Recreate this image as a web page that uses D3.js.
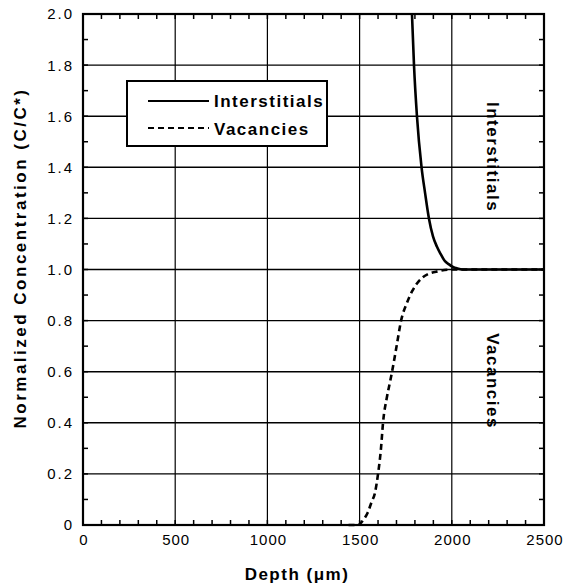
<!DOCTYPE html>
<html><head><meta charset="utf-8">
<script src="https://cdn.jsdelivr.net/npm/d3@7/dist/d3.min.js"></script>
<style>body{margin:0;background:#fff}svg{display:block}text{font-family:"Liberation Sans",Arial,Helvetica,sans-serif}</style>
</head><body>
<script>
const xTicks = [0, 500, 1000, 1500, 2000, 2500];
const yTicks = [0, 0.2, 0.4, 0.6, 0.8, 1.0, 1.2, 1.4, 1.6, 1.8, 2.0];
const yTickLabels = ["0", "0.2", "0.4", "0.6", "0.8", "1.0", "1.2", "1.4", "1.6", "1.8", "2.0"];
const interstitialDepth = [1784, 1795, 1811, 1836, 1855, 1876, 1898, 1919, 1940, 1960, 1985, 2006, 2030, 2060, 2200, 2500];
const interstitialConc  = [2.0, 1.8, 1.6, 1.4, 1.3, 1.2, 1.13, 1.09, 1.06, 1.035, 1.02, 1.01, 1.004, 1.0, 1.0, 1.0];
const vacancyDepth = [1440, 1490, 1520, 1545, 1565, 1583, 1600, 1616, 1627, 1648, 1665, 1676, 1703, 1725, 1757, 1785, 1811, 1840, 1871, 1925, 2000, 2500];
const vacancyConc  = [0.0, 0.0, 0.02, 0.05, 0.09, 0.125, 0.2, 0.3, 0.4, 0.5, 0.56, 0.6, 0.71, 0.8, 0.87, 0.915, 0.945, 0.968, 0.982, 0.993, 1.0, 1.0];
const seriesNames = ["Interstitials", "Vacancies"];

const W = 565, H = 587;
const L = 83, R = 544, T = 14, B = 525;
const svg = d3.select("body").append("svg").attr("width", W).attr("height", H);
const x = d3.scaleLinear().domain([0, 2500]).range([L, R]);
const y = d3.scaleLinear().domain([0, 2]).range([B, T]);

// grid
const g = svg.append("g");
g.selectAll(".vg").data(xTicks.slice(1, -1)).enter().append("line")
  .attr("x1", d => x(d)).attr("x2", d => x(d)).attr("y1", T).attr("y2", B)
  .attr("stroke", "#000").attr("stroke-width", 1.2);
g.selectAll(".hg").data(yTicks.slice(1, -1)).enter().append("line")
  .attr("y1", d => y(d)).attr("y2", d => y(d)).attr("x1", L).attr("x2", R)
  .attr("stroke", "#000").attr("stroke-width", 1.4);

// minor ticks
const xMinor = d3.range(100, 2500, 100);
const yMinor = d3.range(1, 20).map(i => i / 10);
const tl = 5;
g.selectAll(".xb").data(xMinor).enter().append("line")
  .attr("x1", d => x(d)).attr("x2", d => x(d)).attr("y1", B).attr("y2", B - tl).attr("stroke", "#000").attr("stroke-width", 1.5);
g.selectAll(".xt").data(xMinor).enter().append("line")
  .attr("x1", d => x(d)).attr("x2", d => x(d)).attr("y1", T).attr("y2", T + tl).attr("stroke", "#000").attr("stroke-width", 1.5);
g.selectAll(".yl").data(yMinor).enter().append("line")
  .attr("y1", d => y(d)).attr("y2", d => y(d)).attr("x1", L).attr("x2", L + tl).attr("stroke", "#000").attr("stroke-width", 1.5);
g.selectAll(".yr").data(yMinor).enter().append("line")
  .attr("y1", d => y(d)).attr("y2", d => y(d)).attr("x1", R).attr("x2", R - tl).attr("stroke", "#000").attr("stroke-width", 1.5);

// frame
svg.append("rect").attr("x", L).attr("y", T).attr("width", R - L).attr("height", B - T)
  .attr("fill", "none").attr("stroke", "#000").attr("stroke-width", 2.2);

// tick labels
svg.selectAll(".xl").data(xTicks).enter().append("text")
  .attr("x", d => x(d) + 1).attr("y", 545).attr("text-anchor", "middle")
  .attr("font-size", 15).attr("letter-spacing", 1).text(d => d);
svg.selectAll(".ylab").data(yTicks).enter().append("text")
  .attr("x", 74).attr("y", d => y(d)).attr("dy", "0.36em").attr("text-anchor", "end")
  .attr("font-size", 15).attr("letter-spacing", 2).text((d, i) => yTickLabels[i]);

// axis titles
svg.append("text").attr("x", 297).attr("y", 580).attr("text-anchor", "middle")
  .attr("font-size", 17).attr("font-weight", "bold").attr("letter-spacing", 1.5).text("Depth (\u03bcm)");
svg.append("text").attr("transform", "translate(26,258) rotate(-90)").attr("text-anchor", "middle")
  .attr("font-size", 17).attr("font-weight", "bold").attr("letter-spacing", 2.5)
  .text("Normalized Concentration (C/C*)");

// curves
const line = d3.line().x(d => x(d[0])).y(d => y(d[1])).curve(d3.curveMonotoneX);
const iData = interstitialDepth.map((d, i) => [d, interstitialConc[i]]);
const vData = vacancyDepth.map((d, i) => [d, vacancyConc[i]]);
svg.append("path").datum(vData).attr("d", line).attr("fill", "none").attr("stroke", "#000")
  .attr("stroke-width", 2.6).attr("stroke-dasharray", "6,4");
svg.append("path").datum(iData).attr("d", line).attr("fill", "none").attr("stroke", "#000")
  .attr("stroke-width", 2.6);

// in-plot labels
svg.append("text").attr("transform", "translate(487,157) rotate(90)").attr("text-anchor", "middle")
  .attr("font-size", 17).attr("font-weight", "bold").attr("letter-spacing", 1.5).text(seriesNames[0]);
svg.append("text").attr("transform", "translate(487,381) rotate(90)").attr("text-anchor", "middle")
  .attr("font-size", 17).attr("font-weight", "bold").attr("letter-spacing", 1.5).text(seriesNames[1]);

// legend
const lg = svg.append("g");
lg.append("rect").attr("x", 127).attr("y", 81).attr("width", 200).attr("height", 65)
  .attr("fill", "#fff").attr("stroke", "#000").attr("stroke-width", 2);
lg.append("line").attr("x1", 148).attr("x2", 209).attr("y1", 101).attr("y2", 101).attr("stroke", "#000").attr("stroke-width", 2);
lg.append("line").attr("x1", 148).attr("x2", 209).attr("y1", 128).attr("y2", 128).attr("stroke", "#000").attr("stroke-width", 2).attr("stroke-dasharray", "6,4");
lg.append("text").attr("x", 214).attr("y", 107).attr("font-size", 17).attr("font-weight", "bold").attr("letter-spacing", 1.5).text(seriesNames[0]);
lg.append("text").attr("x", 214).attr("y", 135).attr("font-size", 17).attr("font-weight", "bold").attr("letter-spacing", 1.5).text(seriesNames[1]);
</script>
</body></html>
